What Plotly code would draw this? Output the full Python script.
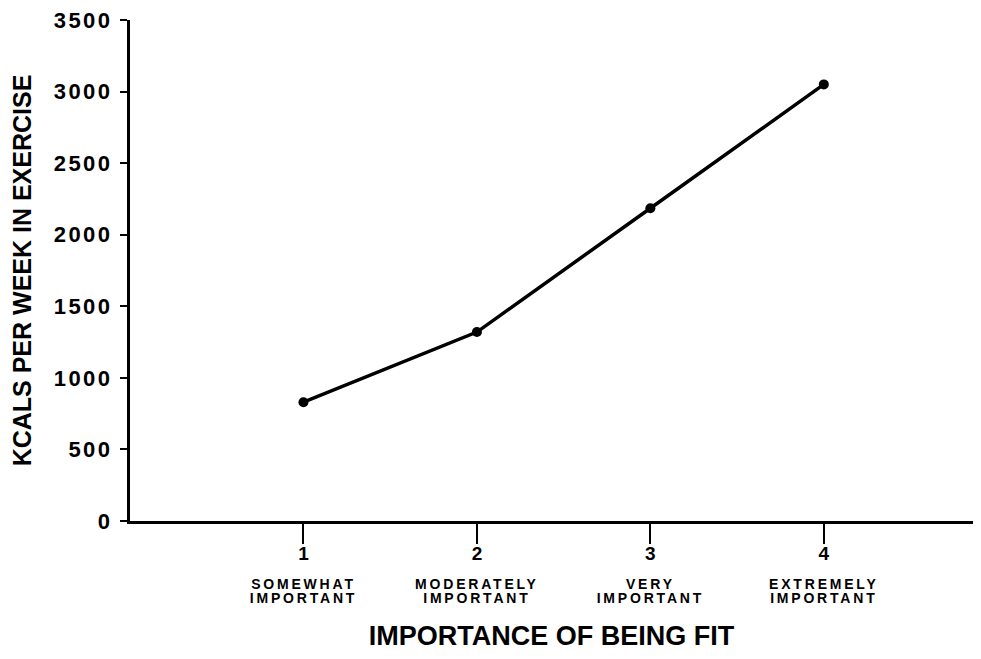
import plotly.graph_objects as go

# importance rating (1-4) vs. mean kcal per week spent in exercise
importance = [1, 2, 3, 4]
kcals = [830, 1320, 2185, 3050]
rating_names = [
    ["SOMEWHAT", "IMPORTANT"],
    ["MODERATELY", "IMPORTANT"],
    ["VERY", "IMPORTANT"],
    ["EXTREMELY", "IMPORTANT"],
]
y_ticks = [0, 500, 1000, 1500, 2000, 2500, 3000, 3500]

FONT = "Liberation Sans, Arial, sans-serif"

x_ticktext = []
for n, (l1, l2) in zip(importance, rating_names):
    x_ticktext.append(
        f"<span style='font-size:19px'>{n}</span><br>\u00a0<br>"
        f"<span style='font-size:14px;letter-spacing:2.8px'>{l1}</span><br>"
        f"<span style='font-size:14px;letter-spacing:2.8px'>{l2}</span>"
    )
y_ticktext = [f"<span style='letter-spacing:2.5px'>{v}</span>" for v in y_ticks]

fig = go.Figure()
fig.add_trace(
    go.Scatter(
        x=importance,
        y=kcals,
        mode="lines+markers",
        line=dict(color="black", width=3.5),
        marker=dict(color="black", size=10),
        showlegend=False,
    )
)

fig.update_xaxes(
    range=[0, 4.86],
    tickvals=importance,
    ticktext=x_ticktext,
    tickfont=dict(family=FONT, size=11, color="black", weight="bold"),
    ticks="outside",
    ticklen=20,
    tickwidth=2,
    tickcolor="black",
    ticklabelstandoff=3,
    ticklabeloverflow="allow",
    showline=True,
    linecolor="black",
    linewidth=3,
    showgrid=False,
    zeroline=False,
    title=dict(
        text="IMPORTANCE OF BEING FIT",
        font=dict(family=FONT, size=27, color="black", weight="bold"),
        standoff=33,
    ),
)
fig.update_yaxes(
    range=[0, 3500],
    tickvals=y_ticks,
    ticktext=y_ticktext,
    tickfont=dict(family=FONT, size=22, color="black", weight="bold"),
    ticks="outside",
    ticklen=7,
    tickwidth=2,
    tickcolor="black",
    ticklabelstandoff=3,
    ticklabeloverflow="allow",
    showline=True,
    linecolor="black",
    linewidth=3,
    showgrid=False,
    zeroline=False,
    title=dict(
        text="KCALS PER WEEK IN EXERCISE",
        font=dict(family=FONT, size=25, color="black", weight="bold"),
        standoff=17,
    ),
)
# page body adds an 8px margin, so the figure is sized to fit inside it
fig.update_layout(
    width=965,
    height=643,
    margin=dict(l=122, r=0, t=12, b=130, autoexpand=False),
    plot_bgcolor="white",
    paper_bgcolor="white",
)

fig.write_html("out.html")
